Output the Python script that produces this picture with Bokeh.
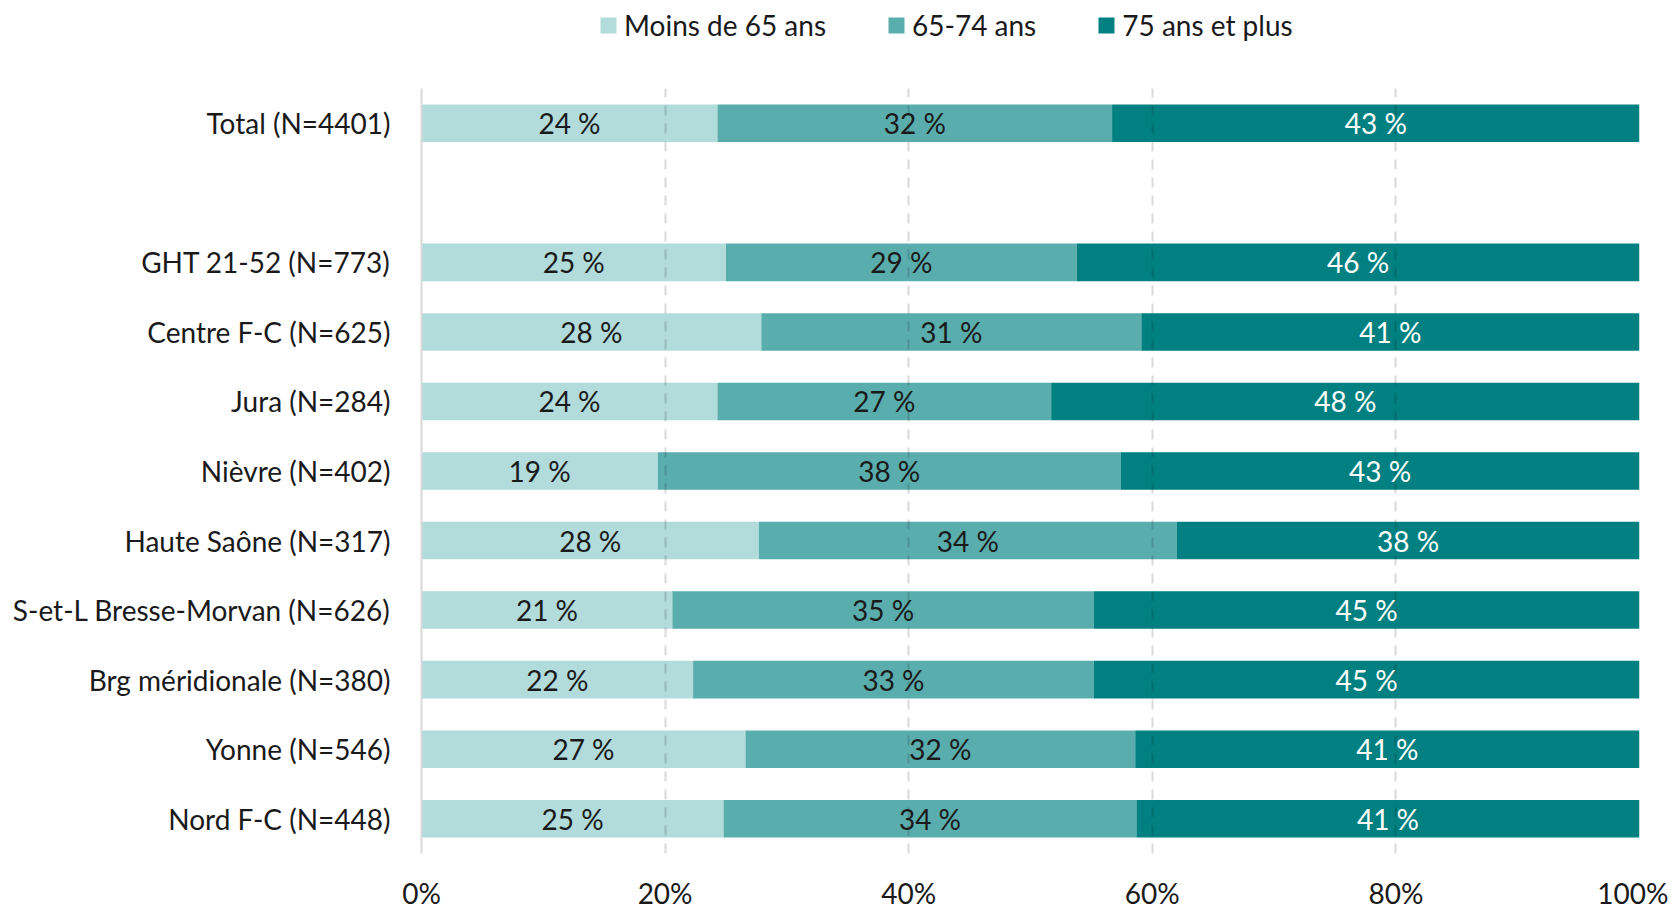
from bokeh.plotting import figure
from bokeh.layouts import column
from bokeh.models import FactorRange, Legend, LegendItem, ColumnDataSource, FixedTicker, CustomJSTickFormatter
from bokeh.core.properties import value
from bokeh.embed import file_html
from bokeh.resources import INLINE

categories = ["Total (N=4401)", " ", "GHT 21-52 (N=773)", "Centre F-C (N=625)", "Jura (N=284)",
              "Nièvre (N=402)", "Haute Saône (N=317)", "S-et-L Bresse-Morvan (N=626)",
              "Brg méridionale (N=380)", "Yonne (N=546)", "Nord F-C (N=448)"]
under65 = [24.3, 0, 25.0, 27.9, 24.3, 19.4, 27.7, 20.6, 22.3, 26.6, 24.8]
age65_74 = [32.4, 0, 28.8, 31.2, 27.4, 38.0, 34.3, 34.6, 32.9, 32.0, 33.9]
age75plus = [43.3, 0, 46.2, 40.9, 48.3, 42.6, 38.0, 44.8, 44.8, 41.4, 41.3]
series_names = ["Moins de 65 ans", "65-74 ans", "75 ans et plus"]
colors = ["#B2DBDB", "#5AADAD", "#008080"]
text_colors = ["#1a1a1a", "#1a1a1a", "#ffffff"]
x_ticks = [0, 20, 40, 60, 80, 100]

FONT = "Lato"

p = figure(frame_width=1218, frame_height=765, output_backend="svg", toolbar_location=None,
           y_range=FactorRange(factors=list(reversed(categories)), range_padding=0),
           x_range=(0, 100),
           min_border_left=421, min_border_right=29, min_border_top=8, min_border_bottom=50)
p.outline_line_color = None

series = [under65, age65_74, age75plus]
left = [0.0] * len(categories)
renderers = []
for vals, name, col, tcol in zip(series, series_names, colors, text_colors):
    right = [l + v for l, v in zip(left, vals)]
    idx = [i for i, v in enumerate(vals) if v > 0]
    src = ColumnDataSource(dict(
        y=[categories[i] for i in idx],
        left=[left[i] for i in idx],
        right=[right[i] for i in idx],
        mid=[(left[i] + right[i]) / 2 for i in idx],
        lab=[f"{round(vals[i])} %" for i in idx],
    ))
    r = p.hbar(y="y", left="left", right="right", height=0.54, source=src,
               fill_color=col, line_color=None)
    renderers.append(r)
    p.text(x="mid", y="y", text="lab", source=src, text_align="center", text_baseline="middle",
           text_font=value(FONT), text_font_size="28px", text_color=tcol, level="annotation")
    left = right

# axes
p.xaxis.ticker = FixedTicker(ticks=x_ticks)
p.xaxis.formatter = CustomJSTickFormatter(code="return tick + '%';")
p.xaxis.axis_line_color = None
p.xaxis.major_tick_line_color = None
p.xaxis.minor_tick_line_color = None
p.xaxis.major_label_text_font = FONT
p.xaxis.major_label_text_font_size = "28px"
p.xaxis.major_label_text_color = "#1a1a1a"
p.xaxis.major_label_standoff = 16

p.yaxis.axis_line_color = "#D9D9D9"
p.yaxis.axis_line_width = 2
p.yaxis.major_tick_line_color = None
p.yaxis.minor_tick_line_color = None
p.yaxis.major_label_text_font = FONT
p.yaxis.major_label_text_font_size = "28px"
p.yaxis.major_label_text_color = "#1a1a1a"
p.yaxis.major_label_standoff = 25

p.ygrid.grid_line_color = None
p.xgrid.grid_line_color = "#000000"
p.xgrid.grid_line_alpha = 0.15
p.xgrid.grid_line_width = 2
p.xgrid.grid_line_dash = "10 8"
p.xgrid.level = "guide"

# legend in a separate strip above the chart (frames are aligned by the column)
lg = figure(frame_width=1218, frame_height=80, output_backend="svg", toolbar_location=None,
            x_range=(0, 1), y_range=(0, 1), min_border=0, min_border_left=421, min_border_right=29)
lg.outline_line_color = None
lg.axis.visible = False
lg.grid.visible = False
lrs = []
for name, col in zip(series_names, colors):
    lrs.append(lg.rect(x=[-5], y=[-5], width=1, height=1, fill_color=col, line_color=None))
legend = Legend(items=[LegendItem(label=n, renderers=[r]) for n, r in zip(series_names, lrs)],
                orientation="horizontal", location=(177, 38),
                glyph_width=20, glyph_height=20, label_standoff=6, spacing=60,
                label_text_font=FONT, label_text_font_size="28px", label_text_color="#1a1a1a",
                border_line_color=None, background_fill_alpha=0, padding=0, margin=0)
lg.add_layout(legend, "center")

open("out.html", "w").write(file_html(column(lg, p, spacing=0), INLINE))
